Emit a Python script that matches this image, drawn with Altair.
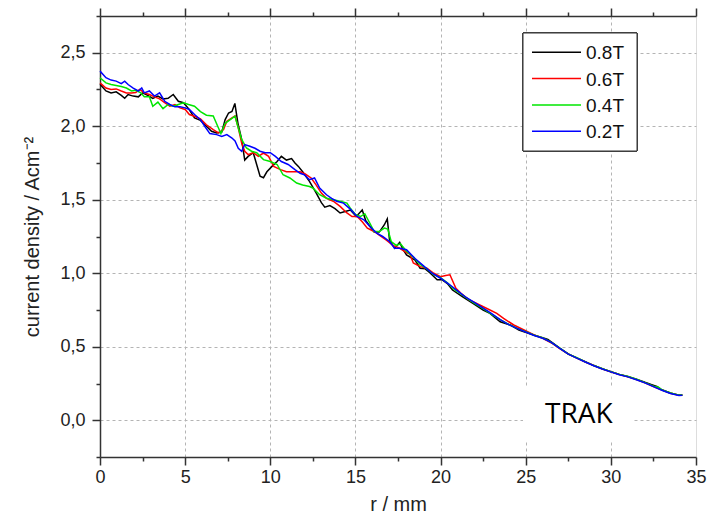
import altair as alt
import pandas as pd

# ---------------- data ----------------
series = ["0.8T", "0.6T", "0.4T", "0.2T"]
colors = ["#000000", "#ff0000", "#00e600", "#0000ff"]

r_08 = [0.0, 0.35, 0.65, 0.95, 1.25, 1.45, 1.65, 1.95, 2.25, 2.5, 2.8, 3.1, 3.4, 3.7, 4.0, 4.3, 4.6, 4.9,
        5.2, 5.55, 5.9, 6.25, 6.55, 6.85, 7.15, 7.35, 7.55, 7.75, 7.92, 8.1, 8.3, 8.5, 8.7, 9.0, 9.2, 9.4,
        9.6, 9.8, 10.1, 10.4, 10.65, 10.95, 11.25, 11.45, 11.65, 11.9, 12.3, 12.7, 13.0, 13.2, 13.5, 13.8,
        14.1, 14.4, 14.7, 15.05, 15.4, 15.6, 15.85, 16.1, 16.4, 16.7, 16.87, 17.0, 17.3, 17.6, 17.8, 18.0,
        18.5, 18.8, 19.1, 19.4, 19.8, 20.1, 20.4, 20.7, 21.3, 21.9, 22.5, 22.9, 23.5, 24.1, 24.6, 25.2,
        25.6, 26.0, 26.3, 26.6, 27.0, 27.5, 28.0, 28.5, 29.0, 29.5, 30.0, 30.5, 31.0, 31.5, 32.0, 32.4,
        32.7, 33.0, 33.5, 34.0, 34.2]
j_08 = [2.285, 2.24, 2.227, 2.234, 2.21, 2.19, 2.216, 2.205, 2.20, 2.227, 2.21, 2.19, 2.205, 2.186, 2.19,
        2.216, 2.17, 2.16, 2.12, 2.057, 2.04, 2.0, 1.966, 1.955, 1.96, 2.045, 2.09, 2.10, 2.155, 2.02, 1.92,
        1.77, 1.795, 1.82, 1.74, 1.66, 1.65, 1.69, 1.727, 1.76, 1.795, 1.77, 1.78, 1.75, 1.727, 1.69, 1.625,
        1.545, 1.48, 1.45, 1.46, 1.44, 1.41, 1.42, 1.43, 1.386, 1.43, 1.36, 1.32, 1.28, 1.28, 1.33, 1.37,
        1.23, 1.17, 1.21, 1.16, 1.125, 1.09, 1.034, 1.03, 1.0, 0.955, 0.955, 0.93, 0.886, 0.84, 0.795,
        0.75, 0.727, 0.67, 0.648, 0.614, 0.59, 0.575, 0.562, 0.55, 0.525, 0.49, 0.452, 0.424, 0.398,
        0.372, 0.35, 0.33, 0.312, 0.298, 0.28, 0.258, 0.242, 0.23, 0.207, 0.186, 0.171, 0.172]

r_06 = [0.0, 0.35, 0.65, 0.95, 1.25, 1.55, 1.85, 2.1, 2.33, 2.6, 2.9, 3.2, 3.5, 3.8, 4.1, 4.4, 4.7, 5.0,
        5.25, 5.55, 5.9, 6.25, 6.65, 6.95, 7.25, 7.45, 7.75, 7.93, 8.12, 8.32, 8.5, 8.7, 9.0, 9.3, 9.6,
        9.9, 10.2, 10.6, 10.95, 11.35, 11.75, 12.05, 12.4, 12.7, 13.0, 13.3, 13.7, 14.1, 14.5, 14.8, 15.1,
        15.4, 15.7, 16.1, 16.4, 16.8, 17.2, 17.6, 18.0, 18.2, 18.4, 18.8, 19.2, 19.6, 20.0, 20.3, 20.55,
        20.9, 21.2, 21.7, 22.3, 22.9, 23.3, 23.7, 24.3, 24.9, 25.5, 26.0, 26.6, 27.0, 27.5, 28.0, 28.5,
        29.0, 29.5, 30.0, 30.5, 31.0, 31.5, 32.0, 32.5, 33.0, 33.5, 34.0, 34.2]
j_06 = [2.295, 2.26, 2.25, 2.254, 2.24, 2.227, 2.227, 2.23, 2.25, 2.227, 2.216, 2.20, 2.186, 2.16, 2.136,
        2.148, 2.125, 2.114, 2.08, 2.068, 2.05, 2.01, 1.977, 1.955, 1.977, 2.034, 2.057, 2.07, 1.99, 1.886,
        1.83, 1.807, 1.82, 1.795, 1.818, 1.795, 1.727, 1.705, 1.69, 1.69, 1.69, 1.675, 1.648, 1.60, 1.545,
        1.51, 1.49, 1.455, 1.41, 1.386, 1.386, 1.35, 1.307, 1.284, 1.26, 1.227, 1.19, 1.17, 1.14, 1.13,
        1.07, 1.045, 1.034, 1.0, 0.977, 0.985, 0.99, 0.898, 0.864, 0.818, 0.784, 0.75, 0.727, 0.693,
        0.648, 0.614, 0.58, 0.558, 0.52, 0.488, 0.45, 0.423, 0.396, 0.372, 0.349, 0.33, 0.311, 0.296,
        0.277, 0.254, 0.23, 0.205, 0.184, 0.17, 0.172]

r_04 = [0.0, 0.35, 0.65, 0.95, 1.25, 1.55, 1.85, 2.1, 2.4, 2.6, 2.9, 3.1, 3.4, 3.7, 4.0, 4.3, 4.6, 4.9,
        5.2, 5.55, 5.9, 6.25, 6.65, 6.95, 7.1, 7.35, 7.65, 7.93, 8.12, 8.32, 8.6, 8.9, 9.2, 9.6, 10.0,
        10.4, 10.75, 11.15, 11.55, 11.9, 12.3, 12.5, 12.9, 13.3, 13.7, 14.1, 14.5, 14.7, 15.0, 15.3, 15.55,
        15.85, 16.1, 16.4, 16.7, 16.9, 17.1, 17.4, 17.65, 18.0, 18.4, 18.8, 19.2, 19.6, 20.0, 20.4, 20.8,
        21.2, 21.6, 22.0, 22.5, 23.0, 23.5, 24.0, 24.5, 25.0, 25.5, 26.0, 26.5, 27.0, 27.5, 28.0, 28.5,
        29.0, 29.5, 30.0, 30.5, 31.0, 31.5, 32.0, 32.5, 32.8, 33.0, 33.5, 34.0, 34.2]
j_04 = [2.33, 2.295, 2.284, 2.277, 2.27, 2.26, 2.24, 2.245, 2.227, 2.20, 2.20, 2.136, 2.164, 2.12, 2.148,
        2.136, 2.148, 2.16, 2.148, 2.136, 2.10, 2.075, 2.07, 1.99, 1.95, 2.02, 2.045, 2.068, 1.99, 1.91,
        1.852, 1.83, 1.82, 1.773, 1.76, 1.74, 1.67, 1.648, 1.614, 1.60, 1.59, 1.58, 1.534, 1.51, 1.50,
        1.49, 1.477, 1.443, 1.40, 1.386, 1.405, 1.34, 1.284, 1.284, 1.307, 1.30, 1.216, 1.19, 1.20, 1.15,
        1.11, 1.06, 1.03, 0.99, 0.97, 0.935, 0.89, 0.86, 0.825, 0.795, 0.76, 0.72, 0.685, 0.652, 0.625,
        0.603, 0.578, 0.56, 0.53, 0.49, 0.45, 0.425, 0.397, 0.372, 0.35, 0.331, 0.312, 0.297, 0.279,
        0.256, 0.232, 0.225, 0.206, 0.185, 0.171, 0.172]

r_02 = [0.0, 0.35, 0.65, 0.95, 1.25, 1.45, 1.65, 1.95, 2.25, 2.45, 2.6, 2.9, 3.2, 3.5, 3.8, 4.1, 4.4, 4.7,
        5.0, 5.25, 5.55, 5.9, 6.15, 6.45, 6.85, 7.15, 7.45, 7.75, 7.93, 8.12, 8.32, 8.5, 8.8, 9.1, 9.4,
        9.7, 10.0, 10.3, 10.65, 11.05, 11.45, 11.75, 12.0, 12.3, 12.6, 12.9, 13.3, 13.6, 13.9, 14.3, 14.7,
        15.1, 15.5, 15.85, 16.25, 16.6, 17.0, 17.3, 17.6, 18.0, 18.5, 19.0, 19.5, 20.0, 20.5, 21.0, 21.5,
        22.0, 22.5, 23.0, 23.5, 24.0, 24.5, 25.0, 25.5, 26.0, 26.5, 27.0, 27.5, 28.0, 28.5, 29.0, 29.5,
        30.0, 30.5, 31.0, 31.5, 32.0, 32.5, 33.0, 33.5, 34.0, 34.2]
j_02 = [2.375, 2.33, 2.314, 2.307, 2.29, 2.307, 2.284, 2.26, 2.24, 2.26, 2.227, 2.24, 2.205, 2.227, 2.17,
        2.148, 2.132, 2.132, 2.125, 2.114, 2.08, 2.045, 2.0, 1.95, 1.943, 1.93, 1.943, 1.92, 1.90, 1.85,
        1.83, 1.875, 1.864, 1.85, 1.83, 1.82, 1.82, 1.795, 1.76, 1.74, 1.705, 1.68, 1.67, 1.636, 1.648,
        1.58, 1.534, 1.51, 1.49, 1.477, 1.436, 1.386, 1.364, 1.318, 1.273, 1.25, 1.216, 1.17, 1.17, 1.16,
        1.10, 1.05, 1.0, 0.966, 0.925, 0.88, 0.835, 0.80, 0.762, 0.725, 0.685, 0.65, 0.625, 0.60, 0.577,
        0.558, 0.53, 0.489, 0.45, 0.423, 0.396, 0.371, 0.349, 0.329, 0.31, 0.295, 0.276, 0.254, 0.229,
        0.204, 0.182, 0.168, 0.17]

x_ticks = [0, 2.5, 5, 7.5, 10, 12.5, 15, 17.5, 20, 22.5, 25, 27.5, 30, 32.5, 35]
y_ticks = [-0.25, 0, 0.25, 0.5, 0.75, 1.0, 1.25, 1.5, 1.75, 2.0, 2.25, 2.5, 2.75]

# ---------------- chart ----------------
FONT = "Liberation Sans"
W, H = 596, 441

x_scale = alt.Scale(domain=[0, 35], nice=False, zero=False)
y_scale = alt.Scale(domain=[-0.25, 2.75], nice=False, zero=False)

x_major = "datum.value % 5 === 0"
y_major = "datum.value % 0.5 === 0"

x_axis = alt.Axis(
    values=x_ticks, title="r / mm",
    labelExpr=f"{x_major} ? format(datum.value, 'd') : ''",
    tickSize={"condition": {"test": x_major, "value": 8}, "value": 4},
    grid=True, gridDash=[3, 3], gridColor="#b4b4b4", gridWidth=1,
    gridOpacity={"condition": {"test": f"{x_major} && datum.value > 0 && datum.value < 35", "value": 1}, "value": 0},
    labelFont=FONT, labelFontSize=18, labelColor="#222", labelPadding=3,
    titleFont=FONT, titleFontSize=20, titleFontWeight="normal", titleColor="#222", titlePadding=8,
    domainColor="#333", domainWidth=1.5, tickColor="#333", tickWidth=1.5, labelFlush=False,
)
y_axis = alt.Axis(
    values=y_ticks, title="current density / Acm⁻²",
    labelExpr=f"{y_major} ? replace(format(datum.value, '.1f'), '.', ',') : ''",
    tickSize={"condition": {"test": y_major, "value": 8}, "value": 4},
    grid=True, gridDash=[3, 3], gridColor="#b4b4b4", gridWidth=1,
    gridOpacity={"condition": {"test": y_major, "value": 1}, "value": 0},
    labelFont=FONT, labelFontSize=18, labelColor="#222", labelPadding=7,
    titleFont=FONT, titleFontSize=20, titleFontWeight="normal", titleColor="#222", titlePadding=17,
    domainColor="#333", domainWidth=1.5, tickColor="#333", tickWidth=1.5, labelFlush=False,
)
top_axis = alt.Axis(
    orient="top", values=x_ticks, labels=False, title=None, grid=False,
    tickSize={"condition": {"test": x_major, "value": 8}, "value": 4},
    domainColor="#333", domainWidth=1.5, tickColor="#333", tickWidth=1.5,
)

layers = []
for i, (name, col, r, j) in enumerate(zip(series, colors, [r_08, r_06, r_04, r_02], [j_08, j_06, j_04, j_02])):
    df = pd.DataFrame({"r": r, "j": j, "B": name})
    layers.append(
        alt.Chart(df).mark_line(color=col, strokeWidth=1.5).encode(
            x=alt.X("r:Q", scale=x_scale, axis=x_axis if i == 0 else None),
            y=alt.Y("j:Q", scale=y_scale, axis=y_axis if i == 0 else None),
        )
    )

# top axis (ticks only)
layers.append(
    alt.Chart(pd.DataFrame({"r": r_02, "j": j_02})).mark_line(opacity=0).encode(
        x=alt.X("r:Q", scale=x_scale, axis=top_axis),
        y=alt.Y("j:Q", scale=y_scale, axis=None),
    )
)

# legend box
leg = pd.DataFrame({"B": series})
layers.append(
    alt.Chart(leg).mark_rect(fill="white", stroke="#333", strokeWidth=1).encode(
        x=alt.value(423), x2=alt.value(537), y=alt.value(17), y2=alt.value(135)
    )
)
for i, (name, col) in enumerate(zip(series, colors)):
    ypix = 36.3 + 26.3 * i
    one = pd.DataFrame({"B": [name]})
    layers.append(
        alt.Chart(one).mark_rule(color=col, strokeWidth=1.5).encode(
            x=alt.value(432), x2=alt.value(481), y=alt.value(ypix)
        )
    )
    layers.append(
        alt.Chart(one).mark_text(align="left", baseline="middle", font=FONT, fontSize=19, color="#111").encode(
            x=alt.value(486), y=alt.value(ypix + 1), text="B:N"
        )
    )

# TRAK label on white patch
trak = pd.DataFrame({"t": ["TRAK"]})
layers.append(
    alt.Chart(trak).mark_rect(fill="white").encode(
        x=alt.value(423), x2=alt.value(533), y=alt.value(372), y2=alt.value(424)
    )
)
layers.append(
    alt.Chart(trak).mark_text(align="left", baseline="alphabetic", font="Open Sans", fontSize=28, color="#000").encode(
        x=alt.value(445), y=alt.value(407), text="t:N"
    )
)

chart = alt.layer(*layers).resolve_axis(x="independent", y="independent").properties(
    width=W, height=H,
    autosize=alt.AutoSizeParams(type="none"),
    padding={"left": 92, "top": 8, "right": 12, "bottom": 66},
).configure_view(stroke="#333", strokeWidth=1.5).configure(background="white")

chart.save("out.html", embed_options={"renderer": "svg", "actions": False})
